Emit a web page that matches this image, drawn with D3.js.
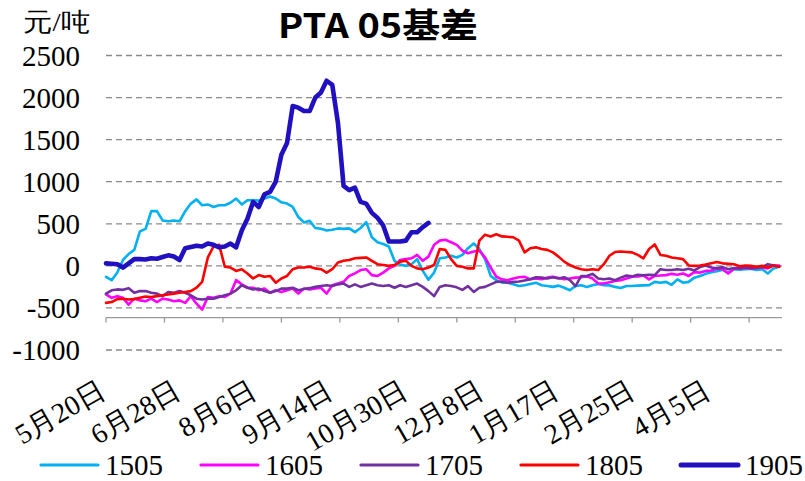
<!DOCTYPE html>
<html><head><meta charset="utf-8">
<script src="https://cdn.jsdelivr.net/npm/d3@7"></script>
<style>body{margin:0;background:#fff}svg{display:block}</style>
</head><body><svg id="c" width="805" height="481" font-family="Liberation Serif"></svg>
<script>
// ---- data ----
const dateLabels = ["5月20日","6月28日","8月6日","9月14日","10月30日","12月8日","1月17日","2月25日","4月5日"];
const yTicks = [2500, 2000, 1500, 1000, 500, 0, -500, -1000];
const seriesNames = ["1505", "1605", "1705", "1805", "1905"];
const dayCount = 240;      // trading days on the category axis
const sampleStep = 2;      // values below are read every 2 trading days

const s1505 = [-130,-170,-80,70,140,190,410,440,650,650,
540,530,540,530,650,740,790,720,730,700,
720,720,750,800,730,780,780,775,800,825,
800,755,740,700,580,515,535,450,440,420,
430,445,440,445,400,450,520,340,280,260,
230,60,15,0,20,80,-60,-165,-80,90,
100,120,100,130,210,265,200,80,-120,-170,
-200,-200,-220,-240,-230,-215,-200,-230,-240,-250,
-235,-260,-290,-240,-230,-250,-230,-215,-230,-232,
-250,-264,-240,-240,-235,-232,-230,-190,-200,-190,
-225,-160,-200,-190,-140,-120,-95,-75,-65,-45,
-85,-40,-45,-40,-35,-50,-40,-90,-30,-10];

const s1605 = [-340,-380,-360,-380,-460,-390,-410,-420,-390,-430,
-390,-400,-420,-410,-440,-360,-450,-520,-370,-380,
-360,-370,-330,-170,-220,-260,-260,-290,-270,-320,
-290,-310,-290,-270,-330,-270,-280,-270,-260,-330,
-230,-210,-190,-120,-90,-50,-40,-110,-120,-80,
-30,0,70,80,90,130,60,110,250,300,
310,280,250,180,150,170,180,100,-20,-130,
-160,-170,-150,-135,-130,-160,-150,-160,-140,-130,
-145,-160,-150,-140,-135,-125,-150,-210,-210,-195,
-180,-170,-150,-130,-125,-115,-160,-120,-115,-110,
-95,-105,-90,-120,-75,-80,-60,-55,-35,-40,
-90,-35,-30,-25,-30,-25,-20,-30,5,5];

const s1705 = [-330,-290,-280,-285,-265,-320,-300,-300,-320,-330,
-360,-310,-320,-300,-320,-350,-390,-400,-390,-390,
-370,-350,-330,-290,-230,-260,-280,-270,-300,-320,
-300,-270,-270,-260,-290,-275,-265,-250,-240,-230,
-240,-220,-210,-250,-220,-250,-230,-210,-230,-240,
-230,-260,-230,-250,-230,-210,-250,-300,-360,-250,
-230,-240,-255,-285,-240,-310,-260,-250,-220,-190,
-185,-200,-190,-185,-175,-160,-135,-140,-150,-135,
-150,-135,-170,-240,-120,-120,-95,-150,-160,-150,
-170,-140,-115,-125,-105,-112,-105,-110,-40,-50,
-50,-40,-50,-35,-55,-15,5,-20,-30,-15,
-40,-25,-30,-20,-30,-25,-15,20,5,-10];

const s1805 = [-440,-430,-395,-390,-400,-395,-380,-365,-370,-360,
-350,-340,-330,-320,-310,-300,-260,-190,100,230,
250,-10,-20,-60,-40,-90,-150,-110,-130,-120,
-200,-150,-120,-40,-20,-20,-10,-30,-40,-80,
-40,40,60,70,90,95,100,60,20,10,
0,10,50,60,0,-30,-40,-20,10,200,
190,80,0,-10,-30,-30,300,370,350,375,
350,345,340,300,160,210,220,200,190,160,
110,50,10,-20,-40,-50,-40,-50,20,120,
165,170,165,160,130,90,200,255,130,120,
100,90,80,5,0,5,15,30,45,30,
25,20,-5,5,0,-10,0,-20,5,-10];

const s1905 = [30,25,20,-20,30,80,80,75,90,85,
105,125,110,70,210,225,240,230,265,250,
220,230,265,220,420,560,760,700,850,880,
1000,1320,1460,1900,1880,1840,1840,2000,2060,2200,
2150,1700,950,900,930,760,740,630,570,480,
290,290,290,300,400,400,460,510];

const seriesValues = [s1505, s1605, s1705, s1805, s1905];
const seriesColors = ["#00B0F0", "#FF00FF", "#7030A0", "#FF0000", "#2010C0"];
const seriesWidths = [2.6, 2.6, 2.6, 2.6, 4.6];

// ---- layout ----
const svg = d3.select("#c");
const x = d3.scaleLinear().domain([0, dayCount - 1]).range([106, 782]);
const y = d3.scaleLinear().domain([-1000, 2500]).range([350, 55.5]);
const SERIF = '"Liberation Serif", "Times New Roman", serif';
function serifText(sel, size) {
  return sel.attr("font-family", "Liberation Serif")
    .style("font-family", SERIF, "important")
    .style("font-size", size + "px", "important")
    .style("font-weight", "normal", "important");
}

// gridlines
svg.append("g").selectAll("line").data(yTicks).join("line")
  .attr("x1", x(0)).attr("x2", x(dayCount - 1))
  .attr("y1", d => y(d)).attr("y2", d => y(d))
  .attr("stroke", "#8a8a8a").attr("stroke-width", 1.3)
  .attr("stroke-dasharray", "6,4");

// y labels
serifText(svg.append("g").selectAll("text").data(yTicks).join("text")
  .attr("x", 80).attr("y", d => y(d) + 10)
  .attr("text-anchor", "end").attr("fill", "#000")
  .text(d => d), 29);

// horizontal axis line (crossing low) with tick marks
const axisY = y(-615);
svg.append("line").attr("x1", x(0)).attr("x2", x(dayCount - 1))
  .attr("y1", axisY).attr("y2", axisY).attr("stroke", "#9a9a9a").attr("stroke-width", 1.3);
const tickEvery = 20.67;
svg.append("g").selectAll("line").data(d3.range(12)).join("line")
  .attr("x1", d => x(d * tickEvery)).attr("x2", d => x(d * tickEvery))
  .attr("y1", axisY).attr("y2", axisY + 5)
  .attr("stroke", "#9a9a9a").attr("stroke-width", 1.3);

// x labels (rotated)
const labelEvery = 26.73;
serifText(svg.append("g").selectAll("text").data(dateLabels).join("text")
  .attr("transform", (d, i) => `translate(${x(i * labelEvery) + 1},396) rotate(-30)`)
  .attr("text-anchor", "end").attr("fill", "#000")
  .text(d => d), 28);

// series lines
const line = d3.line().x(d => x(d[0])).y(d => y(d[1]));
svg.append("g").selectAll("path").data(seriesValues).join("path")
  .attr("d", vals => line(vals.map((v, k) => [k * sampleStep, v])))
  .attr("fill", "none")
  .attr("stroke", (d, i) => seriesColors[i])
  .attr("stroke-width", (d, i) => seriesWidths[i])
  .attr("stroke-linejoin", "round").attr("stroke-linecap", "round");

// title & unit
svg.append("text")
  .attr("x", 278).attr("y", 38)
  .style("font-family", '"Noto Sans CJK SC"', "important").style("font-weight", "bold", "important")
  .style("font-size", "34px", "important").attr("fill", "#000")
  .attr("textLength", 200).attr("lengthAdjust", "spacingAndGlyphs")
  .text("PTA 05基差");
serifText(svg.append("text").attr("x", 23).attr("y", 31).attr("fill", "#000")
  .attr("textLength", 67).attr("lengthAdjust", "spacingAndGlyphs")
  .text("元/吨"), 26);

// legend
const legendX = d3.scaleLinear().domain([0, 1]).range([41, 201]);
const lg = svg.append("g").selectAll("g").data(seriesNames).join("g")
  .attr("transform", (d, i) => `translate(${legendX(i)},465)`);
lg.append("line").attr("x1", 0).attr("x2", 57).attr("y1", 0).attr("y2", 0)
  .attr("stroke", (d, i) => seriesColors[i])
  .attr("stroke-width", (d, i) => i === 4 ? 5 : 3.2)
  .attr("stroke-linecap", "round");
serifText(lg.append("text").attr("x", 64).attr("y", 10).attr("fill", "#000")
  .text(d => d), 29);
</script></body></html>
